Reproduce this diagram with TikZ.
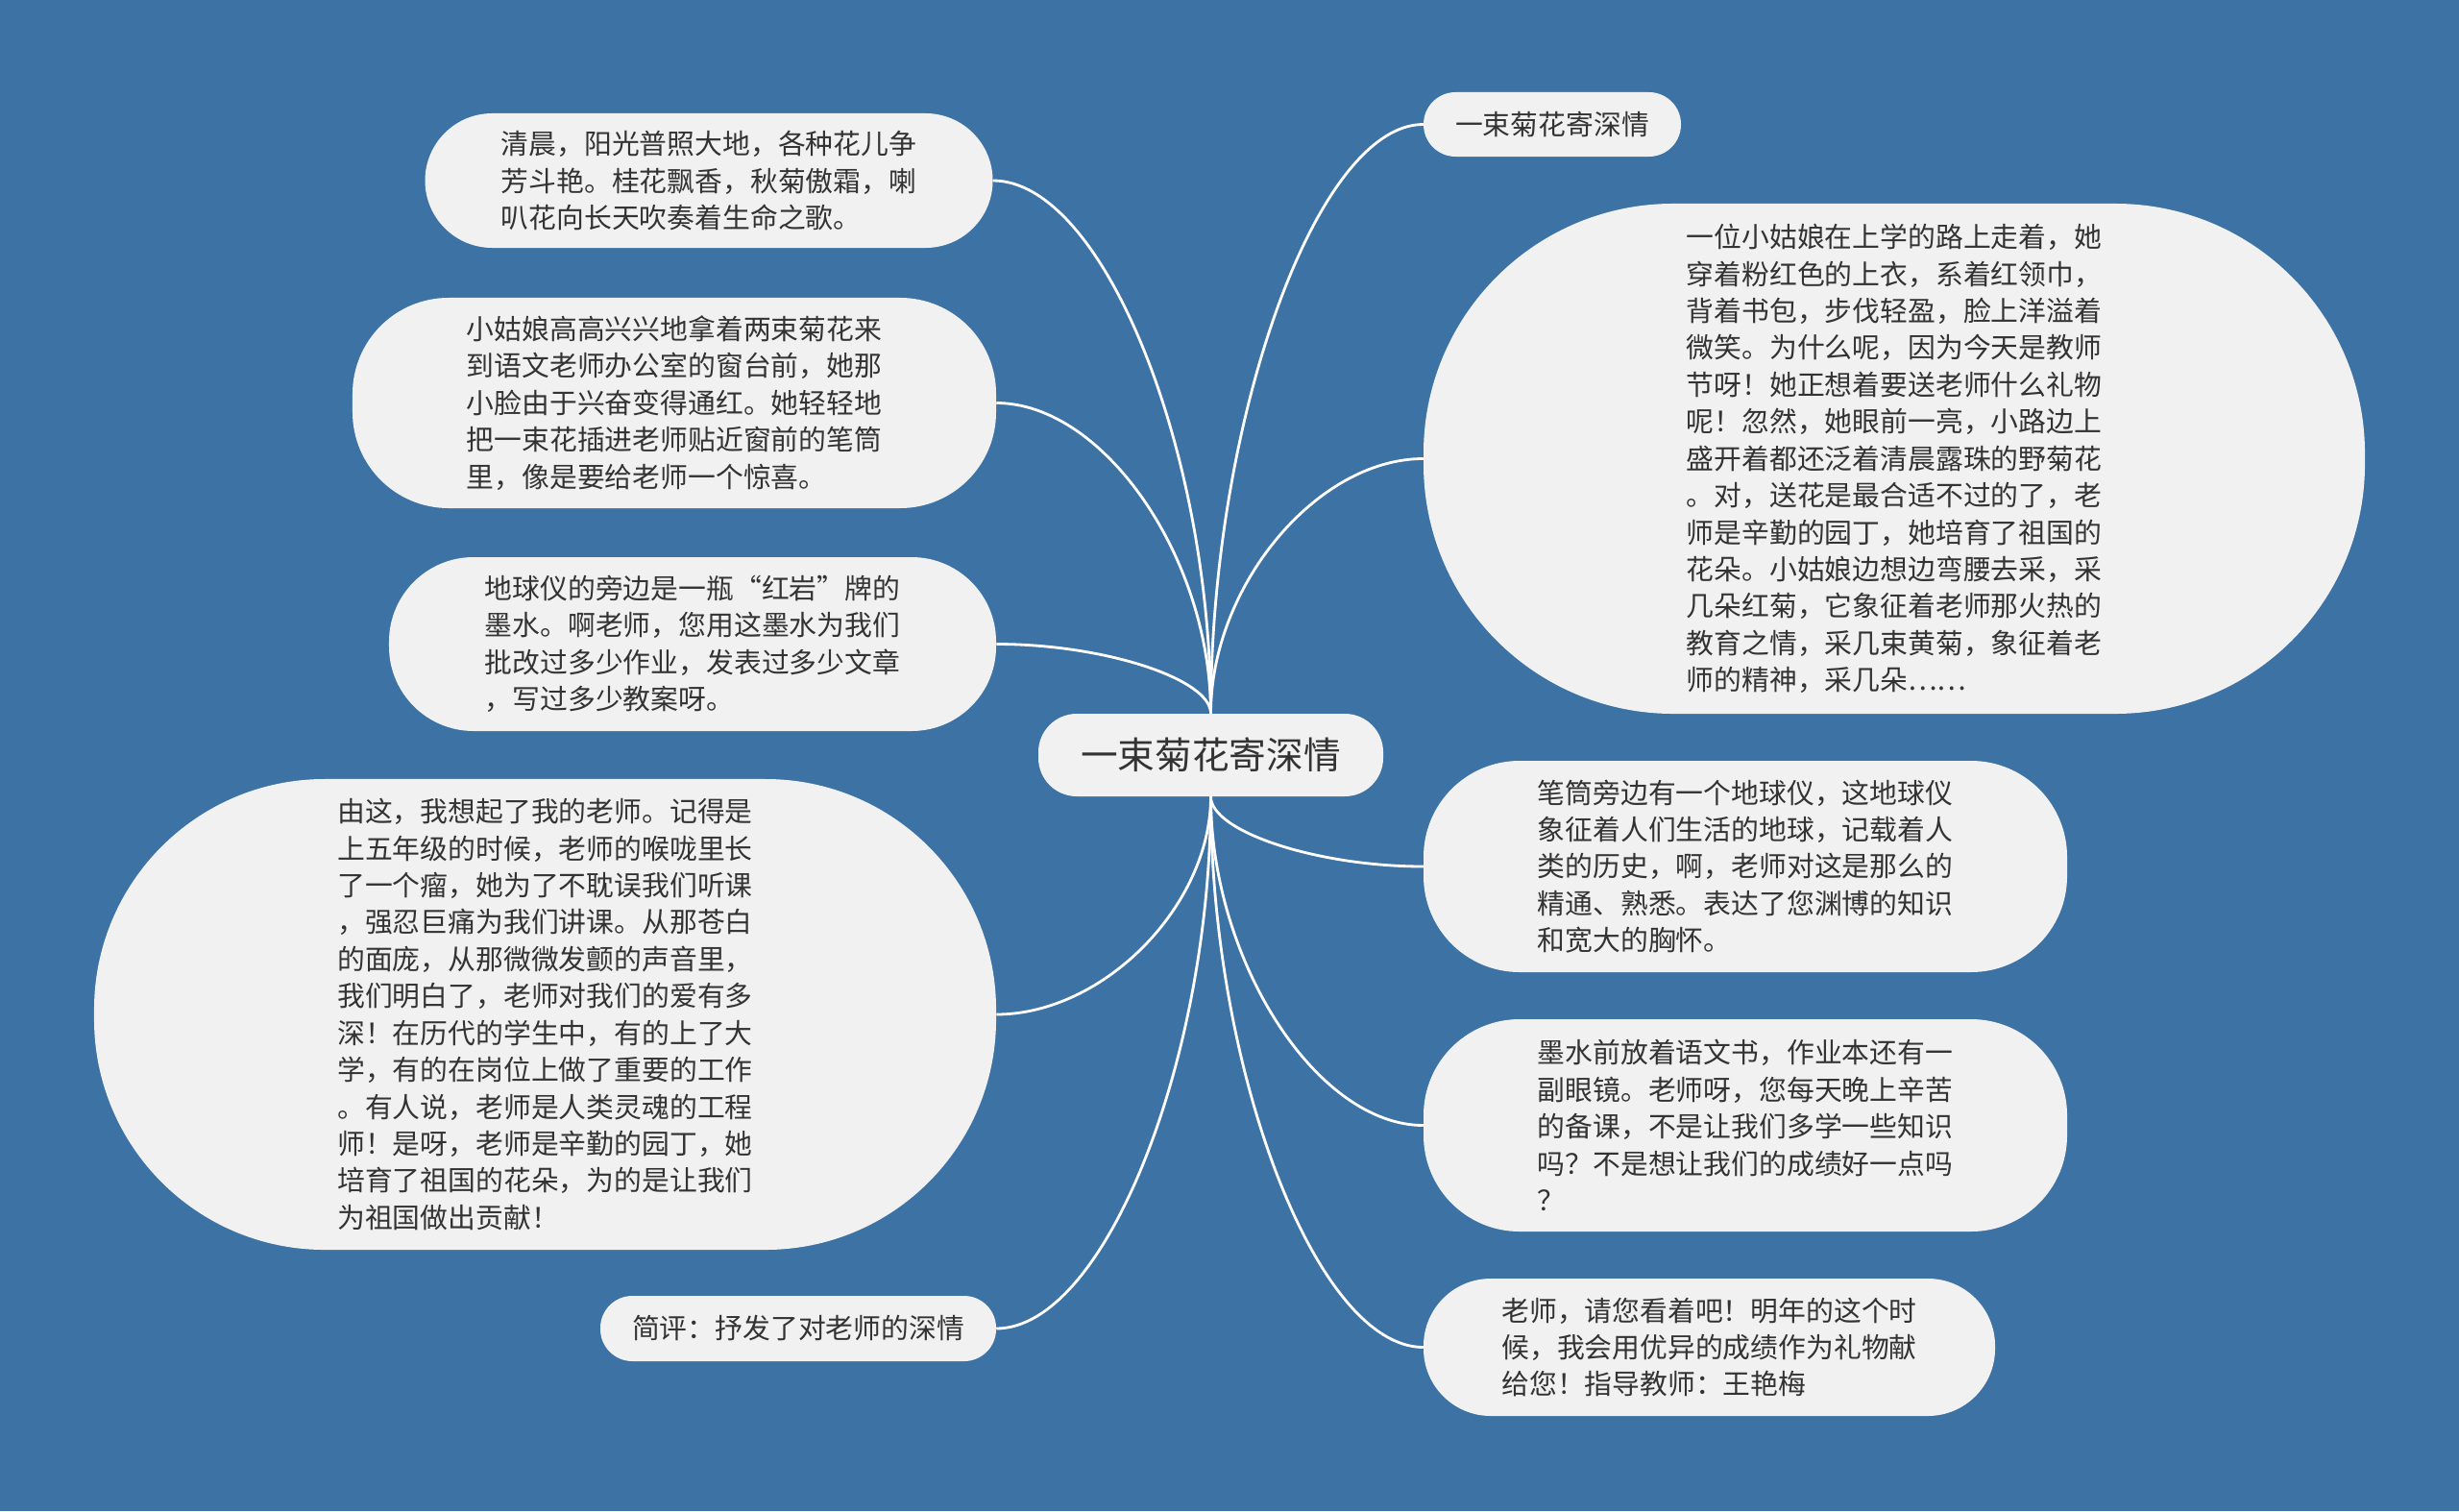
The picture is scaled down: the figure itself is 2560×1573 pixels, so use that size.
\documentclass[tikz,border=0pt]{standalone}
\usepackage{fontspec}
\newfontfamily\cjk{Noto Sans CJK SC}
\usetikzlibrary{calc}
\definecolor{bgblue}{HTML}{3D72A5}
\definecolor{leafgray}{HTML}{F1F1F1}
\definecolor{inkgray}{HTML}{333333}

\begin{document}
\begin{tikzpicture}[
  x=0.03cm, y=-0.03cm,
  leaf/.style={fill=leafgray, rounded corners=#1, align=left, text=inkgray,
               inner sep=0pt, font=\cjk\fontsize{24.6}{32.8}\selectfont},
  link/.style={draw=white, line width=2.4pt}
]

\fill[bgblue] (0,0) rectangle (2560,1573);

\node[leaf=1.2cm, minimum width=10.77cm, minimum height=2.58cm,
      font=\cjk\fontsize{33}{40}\selectfont] (root) at (1260.5,786) {一束菊花寄深情};

\node[leaf=2.1cm, minimum width=17.73cm, minimum height=4.2cm] (l1) at (738,188)
  {清晨，阳光普照大地，各种花儿争\\芳斗艳。桂花飘香，秋菊傲霜，喇\\叭花向长天吹奏着生命之歌。};
\node[leaf=3.0cm, minimum width=20.1cm, minimum height=6.57cm] (l2) at (702,419.5)
  {小姑娘高高兴兴地拿着两束菊花来\\到语文老师办公室的窗台前，她那\\小脸由于兴奋变得通红。她轻轻地\\把一束花插进老师贴近窗前的笔筒\\里，像是要给老师一个惊喜。};
\node[leaf=2.64cm, minimum width=18.96cm, minimum height=5.43cm] (l3) at (721,670.5)
  {地球仪的旁边是一瓶“红岩”牌的\\墨水。啊老师，您用这墨水为我们\\批改过多少作业，发表过多少文章\\，写过多少教案呀。};
\node[leaf=7.2cm, minimum width=28.17cm, minimum height=14.7cm] (l4) at (567.5,1056)
  {由这，我想起了我的老师。记得是\\上五年级的时候，老师的喉咙里长\\了一个瘤，她为了不耽误我们听课\\，强忍巨痛为我们讲课。从那苍白\\的面庞，从那微微发颤的声音里，\\我们明白了，老师对我们的爱有多\\深！在历代的学生中，有的上了大\\学，有的在岗位上做了重要的工作\\。有人说，老师是人类灵魂的工程\\师！是呀，老师是辛勤的园丁，她\\培育了祖国的花朵，为的是让我们\\为祖国做出贡献！};
\node[leaf=1.0cm, minimum width=12.36cm, minimum height=2.04cm] (l5) at (831,1383)
  {简评：抒发了对老师的深情};

\node[leaf=1.0cm, minimum width=8.04cm, minimum height=2.01cm] (r1) at (1616,129.5)
  {一束菊花寄深情};
\node[leaf=7.8cm, minimum width=29.4cm, minimum height=15.93cm] (r2) at (1972,477.5)
  {一位小姑娘在上学的路上走着，她\\穿着粉红色的上衣，系着红领巾，\\背着书包，步伐轻盈，脸上洋溢着\\微笑。为什么呢，因为今天是教师\\节呀！她正想着要送老师什么礼物\\呢！忽然，她眼前一亮，小路边上\\盛开着都还泛着清晨露珠的野菊花\\。对，送花是最合适不过的了，老\\师是辛勤的园丁，她培育了祖国的\\花朵。小姑娘边想边弯腰去采，采\\几朵红菊，它象征着老师那火热的\\教育之情，采几束黄菊，象征着老\\师的精神，采几朵……};
\node[leaf=3.0cm, minimum width=20.1cm, minimum height=6.6cm] (r3) at (1817,902)
  {笔筒旁边有一个地球仪，这地球仪\\象征着人们生活的地球，记载着人\\类的历史，啊，老师对这是那么的\\精通、熟悉。表达了您渊博的知识\\和宽大的胸怀。};
\node[leaf=3.0cm, minimum width=20.1cm, minimum height=6.63cm] (r4) at (1817,1171.5)
  {墨水前放着语文书，作业本还有一\\副眼镜。老师呀，您每天晚上辛苦\\的备课，不是让我们多学一些知识\\吗？不是想让我们的成绩好一点吗\\？};
\node[leaf=2.1cm, minimum width=17.85cm, minimum height=4.29cm] (r5) at (1779.5,1402.5)
  {老师，请您看着吧！明年的这个时\\候，我会用优异的成绩作为礼物献\\给您！指导教师：王艳梅};

\foreach \c in {r1,r2} {
  \coordinate (k) at (root.north |- \c.west);
  \draw[link] (root.north) .. controls ($(root.north)!0.5!(k)$) and ($(\c.west)!0.5!(k)$) .. (\c.west);
}
\foreach \c in {l1,l2,l3} {
  \coordinate (k) at (root.north |- \c.east);
  \draw[link] (root.north) .. controls ($(root.north)!0.5!(k)$) and ($(\c.east)!0.5!(k)$) .. (\c.east);
}
\foreach \c in {r3,r4,r5} {
  \coordinate (k) at (root.south |- \c.west);
  \draw[link] (root.south) .. controls ($(root.south)!0.5!(k)$) and ($(\c.west)!0.5!(k)$) .. (\c.west);
}
\foreach \c in {l4,l5} {
  \coordinate (k) at (root.south |- \c.east);
  \draw[link] (root.south) .. controls ($(root.south)!0.5!(k)$) and ($(\c.east)!0.5!(k)$) .. (\c.east);
}

\end{tikzpicture}
\end{document}
